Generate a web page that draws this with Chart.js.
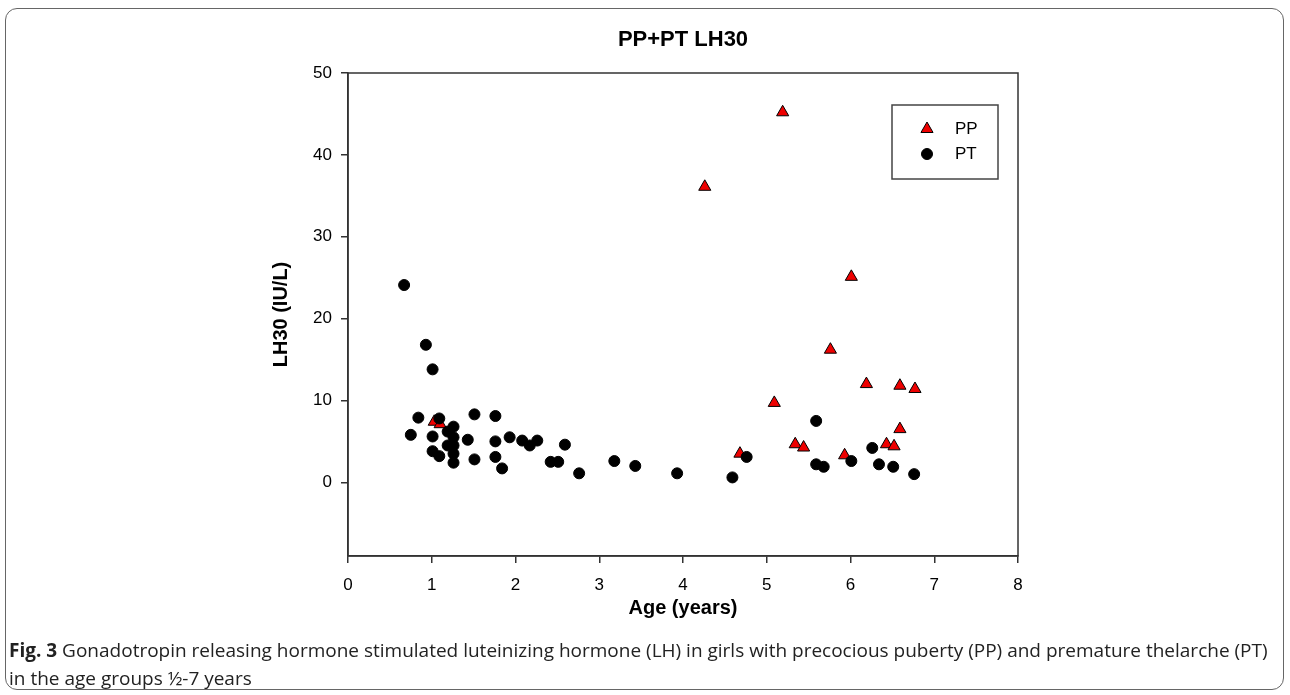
<!DOCTYPE html>
<html>
<head>
<meta charset="utf-8">
<script src="https://cdn.jsdelivr.net/npm/chart.js@4"></script>
<style>
  body { margin: 0; background: #fff; width: 1290px; height: 695px; overflow: hidden; position: relative; }
  #frame { position: absolute; left: 5px; top: 8px; width: 1277px; height: 680px; border: 1.5px solid #666; border-radius: 12px; }
  #wrap { position: absolute; left: 0; top: 0; width: 1290px; height: 640px; }
  #caption { position: absolute; left: 9px; top: 636px; width: 1278px; font-family: "Open Sans", sans-serif; font-size: 19px; line-height: 28px; color: #222; white-space: nowrap; }
  #caption b { font-weight: 700; }
</style>
</head>
<body>
<div id="frame"></div>
<div id="wrap"><canvas id="grafico"></canvas></div>
<div id="caption"><b>Fig. 3</b> Gonadotropin releasing hormone stimulated luteinizing hormone (LH) in girls with precocious puberty (PP) and premature thelarche (PT)<br>in the age groups ½-7 years</div>
<script>
// edad (años) y LH30 (IU/L)
const ppEdad = [1.03, 1.10, 4.26, 5.19, 6.01, 5.76, 5.09, 6.19, 6.59, 6.77, 4.68, 5.34, 5.44, 5.93, 6.59, 6.43, 6.52];
const ppLH = [7.4, 7.1, 36.1, 45.2, 25.1, 16.2, 9.7, 12.0, 11.8, 11.4, 3.5, 4.65, 4.25, 3.3, 6.5, 4.65, 4.4];

const ptEdad = [0.67, 0.93, 1.01, 0.84, 1.09, 0.75, 1.01, 1.26, 1.19, 1.26, 1.19, 1.26, 1.26, 1.26, 1.01, 1.09,
  1.43, 1.51, 1.51, 1.76, 1.76, 1.76, 1.84, 1.93, 2.08, 2.17, 2.26, 2.59, 2.42, 2.51, 2.76, 3.18, 3.43, 3.93,
  4.59, 4.76, 5.59, 5.59, 5.68, 6.01, 6.26, 6.34, 6.51, 6.76];
const ptLH = [24.1, 16.8, 13.8, 7.9, 7.8, 5.8, 5.6, 6.8, 6.2, 5.5, 4.5, 4.5, 3.5, 2.4, 3.8, 3.2,
  5.2, 8.3, 2.8, 8.1, 5.0, 3.1, 1.7, 5.5, 5.1, 4.5, 5.1, 4.6, 2.5, 2.5, 1.1, 2.6, 2.0, 1.1,
  0.6, 3.1, 7.5, 2.2, 1.9, 2.6, 4.2, 2.2, 1.9, 1.0];

const xTicks = [0, 1, 2, 3, 4, 5, 6, 7, 8];
const yTicks = [0, 10, 20, 30, 40, 50];

const toPts = (xs, ys) => xs.map((x, i) => ({ x: x, y: ys[i] }));

// marco del area y leyenda dentro del grafico
const marco = {
  id: 'marco',
  afterDraw(chart) {
    const { ctx, chartArea: a } = chart;
    ctx.save();
    ctx.strokeStyle = '#333';
    ctx.lineWidth = 1.5;
    ctx.strokeRect(a.left, a.top, a.right - a.left, a.bottom - a.top);
    // leyenda
    ctx.strokeStyle = '#444';
    ctx.strokeRect(892, 105, 106, 74);
    chart.data.datasets.forEach((ds, i) => {
      const y = 129 + i * 25;
      ctx.fillStyle = ds.backgroundColor;
      ctx.strokeStyle = ds.borderColor;
      ctx.lineWidth = ds.borderWidth;
      Chart.helpers.drawPoint(ctx, { pointStyle: ds.pointStyle, radius: ds.pointRadius, borderWidth: ds.borderWidth }, 927, y);
      ctx.fillStyle = '#000';
      ctx.font = '17px "Liberation Sans", Arial, sans-serif';
      ctx.textBaseline = 'middle';
      ctx.fillText(ds.label, 955, y);
    });
    ctx.restore();
  }
};

const ctx = document.getElementById('grafico').getContext('2d');
new Chart(ctx, {
  type: 'scatter',
  data: {
    datasets: [{
      label: 'PP',
      data: toPts(ppEdad, ppLH),
      pointStyle: 'triangle',
      pointRadius: 7,
      backgroundColor: '#ee0000',
      borderColor: '#000',
      borderWidth: 1,
      order: 1
    }, {
      label: 'PT',
      data: toPts(ptEdad, ptLH),
      pointStyle: 'circle',
      pointRadius: 5.5,
      backgroundColor: '#000',
      borderColor: '#000',
      borderWidth: 1,
      order: 0
    }]
  },
  options: {
    responsive: true,
    maintainAspectRatio: false,
    animation: false,
    layout: { padding: { left: 0, right: 272, top: 0, bottom: 0 } },
    scales: {
      x: {
        type: 'linear',
        min: 0,
        max: 8,
        afterFit: s => { s.height = 640 - 556; },
        afterBuildTicks: s => { s.ticks = xTicks.map(v => ({ value: v })); },
        grid: { drawOnChartArea: false, drawTicks: true, tickLength: 7, color: '#333', lineWidth: 1.5 },
        border: { display: true, color: '#333', width: 1.5 },
        ticks: { color: '#000', padding: 12, font: { family: '"Liberation Sans", Arial', size: 17 } },
        title: { display: true, text: 'Age (years)', color: '#000', padding: { top: 0, bottom: 20 },
          font: { family: '"Liberation Sans", Arial', size: 20, weight: 'bold' } }
      },
      y: {
        type: 'linear',
        min: -9,
        max: 50,
        afterFit: s => { s.width = 348; },
        afterBuildTicks: s => { s.ticks = yTicks.map(v => ({ value: v })); },
        grid: { drawOnChartArea: false, drawTicks: true, tickLength: 7, color: '#333', lineWidth: 1.5 },
        border: { display: true, color: '#333', width: 1.5 },
        ticks: { color: '#000', padding: 9, font: { family: '"Liberation Sans", Arial', size: 17 } },
        title: { display: true, text: 'LH30 (IU/L)', color: '#000', padding: { top: 269, bottom: 0 },
          font: { family: '"Liberation Sans", Arial', size: 20, weight: 'bold' } }
      }
    },
    plugins: {
      legend: { display: false },
      tooltip: { enabled: false },
      title: {
        display: true,
        text: 'PP+PT LH30',
        fullSize: false,
        color: '#000',
        padding: { top: 26.8, bottom: 19.8 },
        font: { family: '"Liberation Sans", Arial', size: 22, weight: 'bold' }
      }
    }
  },
  plugins: [marco]
});
</script>
</body>
</html>
